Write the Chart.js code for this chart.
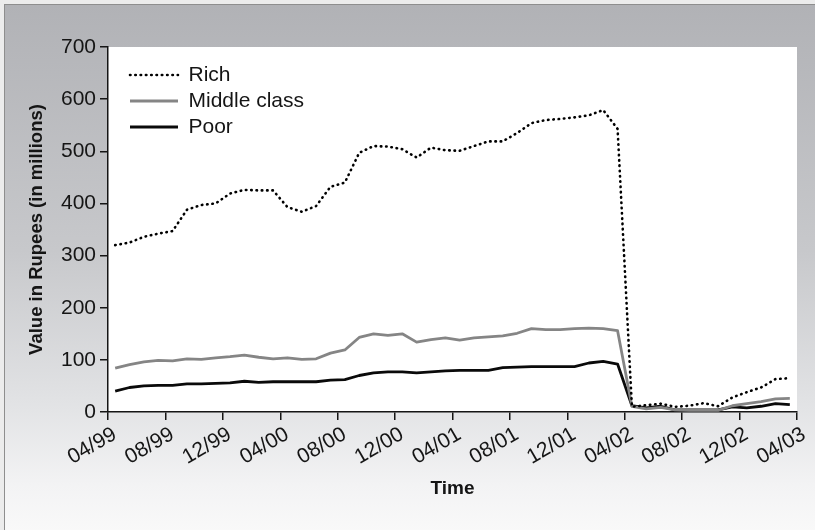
<!DOCTYPE html>
<html>
<head>
<meta charset="utf-8">
<script src="https://cdn.jsdelivr.net/npm/chart.js@4/dist/chart.umd.min.js"></script>
<style>
  html, body { margin: 0; padding: 0; background: #ececec; }
  #wrap { position: relative; width: 815px; height: 530px; overflow: hidden; background: #ececec; }
  #frame {
    position: absolute; left: 4px; top: 4px; width: 840px; height: 560px;
    border-left: 1px solid #8e8e8e; border-top: 1px solid #8e8e8e;
    background: linear-gradient(to bottom, #b1b2b6 0px, #c7c8cb 245px, #e2e3e5 400px, #f3f3f4 480px, #f9f9f9 526px, #f9f9f9 560px);
  }
  canvas { position: absolute; left: 0; top: 0; }
</style>
</head>
<body>
<div id="wrap">
  <div id="frame"></div>
  <canvas id="c" width="815" height="530"></canvas>
</div>
<script>
// Tick labels on the time axis (every 4 months, 04/99 .. 04/03)
const tickLabels = ['04/99','08/99','12/99','04/00','08/00','12/00','04/01','08/01','12/01','04/02','08/02','12/02','04/03'];
// Monthly values, Rupees in millions (48 months from 04/99)
const rich = [320, 325, 336, 342, 347, 388, 397, 400, 419, 426, 425, 425,
              393, 384, 395, 432, 440, 497, 510, 509, 504, 488, 507, 502,
              501, 510, 519, 519, 535, 554, 560, 562, 565, 569, 579, 543,
              10, 13, 16, 10, 12, 17, 11, 28, 38, 47, 63, 65];
const middle = [84, 91, 96, 99, 98, 102, 101, 104, 106, 109, 105, 102,
                104, 101, 102, 113, 119, 143, 150, 147, 150, 134, 139, 142,
                138, 142, 144, 146, 151, 160, 158, 158, 160, 161, 160, 156,
                11, 6, 9, 4, 3, 3, 3, 12, 16, 20, 25, 26];
const poor = [40, 47, 50, 51, 51, 54, 54, 55, 56, 59, 57, 58,
              58, 58, 58, 61, 62, 70, 75, 77, 77, 75, 77, 79,
              80, 80, 80, 85, 86, 87, 87, 87, 87, 94, 97, 92,
              12, 8, 11, 4, 4, 4, 4, 10, 8, 11, 16, 14];
const seriesNames = ['Rich', 'Middle class', 'Poor'];

const toPoints = arr => arr.map((v, i) => ({ x: i + 0.5, y: v }));

const REG = '"Liberation Sans", Arial, sans-serif';
const BOLD = '"Liberation Sans Narrow", "Liberation Sans", Arial, sans-serif';
const INK = '#151515';

const plotBg = {
  id: 'plotBg',
  beforeDraw(chart) {
    const { ctx, chartArea: a } = chart;
    ctx.save();
    ctx.fillStyle = '#ffffff';
    ctx.fillRect(a.left, a.top, a.right - a.left, a.bottom - a.top);
    ctx.restore();
  }
};
const legendShift = {
  id: 'legendShift',
  afterLayout(chart) {
    const lg = chart.legend;
    if (!lg) return;
    const dx = 17, dy = 47;
    lg.left += dx; lg.right += dx; lg.top += dy; lg.bottom += dy;
  }
};

new Chart(document.getElementById('c'), {
  type: 'line',
  data: {
    datasets: [
      { label: seriesNames[0], data: toPoints(rich), borderColor: '#000', borderWidth: 2.6,
        borderDash: [0.5, 4.8], borderCapStyle: 'round', borderJoinStyle: 'round',
        pointRadius: 0, pointStyle: 'line', tension: 0, fill: false },
      { label: seriesNames[1], data: toPoints(middle), borderColor: '#858585', borderWidth: 2.8,
        borderJoinStyle: 'round', pointRadius: 0, pointStyle: 'line', tension: 0, fill: false },
      { label: seriesNames[2], data: toPoints(poor), borderColor: '#0a0a0a', borderWidth: 2.8,
        borderJoinStyle: 'round', pointRadius: 0, pointStyle: 'line', tension: 0, fill: false }
    ]
  },
  options: {
    responsive: false,
    animation: false,
    devicePixelRatio: 1,
    events: [],
    layout: { padding: { left: 0, top: 47, right: 18, bottom: 0 } },
    plugins: {
      tooltip: { enabled: false },
      legend: {
        position: 'chartArea',
        align: 'start',
        title: { display: true, text: ' ', font: { size: 1, lineHeight: 1 }, padding: { top: 0, bottom: 11.5 } },
        labels: {
          usePointStyle: true,
          pointStyleWidth: 48,
          padding: 5,
          color: INK,
          font: { family: REG, size: 21 },
          generateLabels(chart) {
            const items = Chart.defaults.plugins.legend.labels.generateLabels(chart);
            return items.map(it => {
              const ds = chart.data.datasets[it.datasetIndex];
              return Object.assign(it, {
                strokeStyle: ds.borderColor,
                fillStyle: ds.borderColor,
                lineWidth: ds.borderWidth,
                lineDash: ds.borderDash || [],
                lineCap: ds.borderCapStyle || 'butt',
                pointStyle: 'line'
              });
            });
          }
        }
      }
    },
    scales: {
      x: {
        type: 'linear',
        min: 0, max: 48,
        afterFit(s) { s.height = 118; },
        border: { display: true, color: INK, width: 1.5 },
        grid: { drawOnChartArea: false, drawTicks: true, tickLength: 8, color: INK, lineWidth: 1.5 },
        ticks: {
          stepSize: 4,
          autoSkip: false,
          maxRotation: 30, minRotation: 30,
          padding: 2,
          labelOffset: 7,
          color: INK,
          font: { family: REG, size: 21, lineHeight: 1.2 },
          callback: v => tickLabels[Math.round(v / 4)]
        },
        title: {
          display: true, text: 'Time', color: INK,
          font: { family: BOLD, size: 19, weight: 'bold', lineHeight: 1.2 },
          padding: { top: 0, bottom: 30 }
        }
      },
      y: {
        min: 0, max: 700,
        afterFit(s) { s.width = 108; },
        border: { display: true, color: INK, width: 1.5 },
        grid: { drawOnChartArea: false, drawTicks: true, tickLength: 8, color: INK, lineWidth: 1.5 },
        ticks: {
          stepSize: 100,
          padding: 4,
          color: INK,
          font: { family: REG, size: 21 }
        },
        title: {
          display: true, text: 'Value in Rupees (in millions)', color: INK,
          font: { family: BOLD, size: 18.5, weight: 'bold', lineHeight: 1.2 },
          padding: { top: 26, bottom: 0 }
        }
      }
    }
  },
  plugins: [plotBg, legendShift]
});
</script>
</body>
</html>
